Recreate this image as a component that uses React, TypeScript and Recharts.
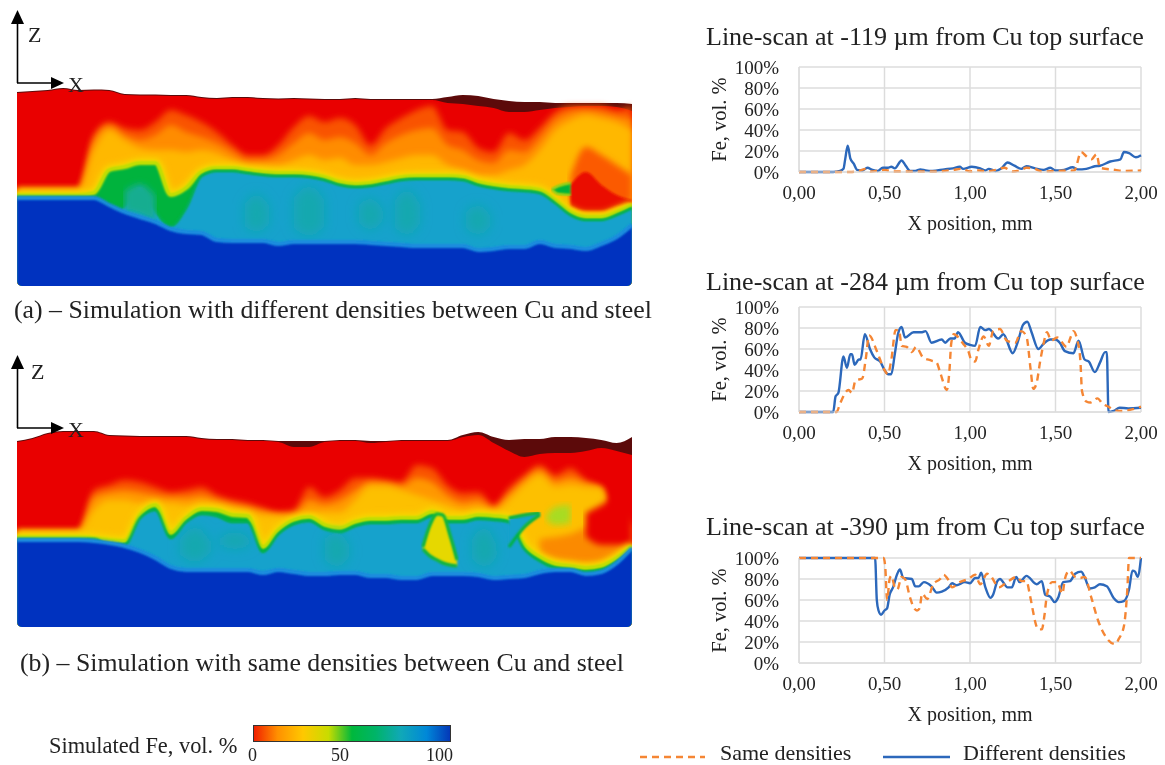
// Laser weld cross-sections (simulated Fe fraction) with three line-scan charts
import React from 'react';
import { AreaChart, Area, LineChart, Line, XAxis, YAxis, CartesianGrid } from 'recharts';

const FONT = '"Liberation Serif", "Times New Roman", serif';
const TEXT = '#222222';
const GRID = '#dcdcdc';
const SAME_COLOR = '#f58634';
const DIFF_COLOR = '#2c68bb';

// ---- line scans: [x in mm] and [Fe vol. %] ----
const scan1DiffX = [0, 0.2, 0.24, 0.26, 0.27, 0.285, 0.3, 0.32, 0.34, 0.37, 0.4, 0.43, 0.46, 0.49, 0.52, 0.54, 0.56, 0.6, 0.62, 0.65, 0.68, 0.71, 0.74, 0.78, 0.85, 0.9, 0.94, 0.96, 1.01, 1.06, 1.09, 1.11, 1.15, 1.18, 1.22, 1.26, 1.3, 1.33, 1.38, 1.43, 1.47, 1.5, 1.55, 1.6, 1.63, 1.68, 1.73, 1.76, 1.82, 1.88, 1.9, 1.93, 1.97, 2];
const scan1DiffY = [0, 0, 1, 3, 12, 25, 13, 8, 2, 1.5, 4, 2, 1, 4, 4, 5, 3.5, 11, 7, 1, 1, 2.5, 1.5, 1, 2.5, 3.5, 5, 3, 5, 3.5, 1.5, 3, 1, 3, 9, 6, 3, 5.5, 3.5, 2, 4, 1.5, 2, 4.5, 2.5, 3, 5.5, 6, 10, 12, 19, 18, 14, 16];
const scan1SameX = [0, 0.3, 0.36, 0.39, 0.42, 0.47, 0.5, 0.55, 0.65, 0.8, 0.9, 0.95, 1, 1.05, 1.1, 1.15, 1.2, 1.25, 1.3, 1.33, 1.38, 1.42, 1.5, 1.61, 1.65, 1.68, 1.71, 1.74, 1.76, 1.85, 1.9, 2];
const scan1SameY = [0, 0, 1.5, 3, 0.5, 1.5, 2, 0.5, 0.5, 0.5, 2, 3, 0.5, 1.5, 0.5, 2, 4, 0.5, 2, 4, 3, 0.5, 1, 1.5, 19, 15, 12, 17, 4, 2, 1, 1.5];

const scan2DiffX = [0, 0.2, 0.214, 0.23, 0.26, 0.28, 0.3, 0.31, 0.325, 0.35, 0.36, 0.385, 0.415, 0.44, 0.475, 0.5, 0.52, 0.54, 0.56, 0.58, 0.6, 0.62, 0.67, 0.72, 0.74, 0.775, 0.835, 0.855, 0.885, 0.91, 0.93, 0.97, 1, 1.03, 1.06, 1.09, 1.11, 1.165, 1.195, 1.25, 1.28, 1.31, 1.335, 1.36, 1.4, 1.43, 1.47, 1.5, 1.525, 1.555, 1.605, 1.635, 1.67, 1.695, 1.73, 1.76, 1.79, 1.8, 1.81, 1.84, 1.875, 1.925, 2];
const scan2DiffY = [0, 0, 15, 18, 53, 42, 55, 55, 45, 50, 50, 74, 60, 52, 48, 40, 36, 36, 55, 75, 81, 71, 76, 76, 77, 66, 69, 66, 70, 70, 76, 66, 64, 63, 81, 78, 79, 70, 74, 56, 67, 83, 86, 76, 60, 65, 69, 69, 66, 58, 56, 68, 50, 48, 38, 47, 57, 57, 0, 1, 4, 3.5, 4];
const scan2SameX = [0, 0.22, 0.24, 0.29, 0.31, 0.33, 0.37, 0.39, 0.41, 0.455, 0.5, 0.52, 0.54, 0.565, 0.585, 0.6, 0.63, 0.66, 0.685, 0.725, 0.775, 0.805, 0.825, 0.865, 0.88, 0.89, 0.905, 0.96, 0.99, 1.01, 1.03, 1.05, 1.08, 1.11, 1.135, 1.175, 1.215, 1.265, 1.3, 1.33, 1.355, 1.37, 1.39, 1.41, 1.43, 1.45, 1.475, 1.51, 1.565, 1.59, 1.605, 1.625, 1.645, 1.655, 1.68, 1.705, 1.745, 1.775, 1.81, 1.84, 1.885, 1.935, 2];
const scan2SameY = [0, 0, 8, 21, 18, 30, 32, 50, 73, 58, 40, 36, 50, 78, 78, 63, 62, 57, 62, 52, 49, 47, 38, 21, 40, 65, 74, 65, 58, 49, 48, 60, 72, 63, 77, 79, 68, 66, 77, 72, 40, 22, 28, 48, 65, 76, 68, 71, 62, 72, 77, 70, 50, 20, 10, 9, 13, 8, 5, 2, 1, 2, 5];

const scan3DiffX = [0, 0.445, 0.455, 0.465, 0.48, 0.5, 0.515, 0.53, 0.55, 0.575, 0.59, 0.61, 0.66, 0.68, 0.7, 0.73, 0.775, 0.805, 0.835, 0.875, 0.895, 0.92, 0.97, 1, 1.03, 1.05, 1.065, 1.09, 1.12, 1.135, 1.16, 1.175, 1.22, 1.245, 1.27, 1.29, 1.33, 1.39, 1.42, 1.44, 1.47, 1.495, 1.515, 1.545, 1.585, 1.615, 1.65, 1.67, 1.7, 1.73, 1.76, 1.8, 1.84, 1.87, 1.9, 1.93, 1.95, 1.965, 1.98, 2];
const scan3DiffY = [100, 100, 60, 50, 46, 50, 52, 65, 72, 85, 89, 81, 80, 73, 73, 77, 73, 67, 68, 72, 76, 74, 77, 76, 81, 81, 86, 72, 62, 65, 78, 80, 72, 72, 82, 77, 83, 75, 78, 65, 63, 58, 62, 77, 78, 85, 87, 82, 71, 72, 75, 73, 62, 58, 59, 70, 88, 87, 82, 100];
const scan3SameX = [0, 0.495, 0.505, 0.515, 0.53, 0.54, 0.56, 0.575, 0.6, 0.62, 0.65, 0.665, 0.69, 0.705, 0.72, 0.75, 0.785, 0.825, 0.845, 0.87, 0.895, 0.94, 0.99, 1.03, 1.06, 1.1, 1.12, 1.17, 1.2, 1.225, 1.275, 1.3, 1.33, 1.35, 1.37, 1.38, 1.4, 1.42, 1.435, 1.45, 1.48, 1.51, 1.54, 1.555, 1.58, 1.615, 1.645, 1.67, 1.71, 1.75, 1.79, 1.85, 1.87, 1.9, 1.92, 1.93, 1.98, 2];
const scan3SameY = [100, 100, 90, 60, 80, 83, 72, 70, 82, 80, 62, 55, 50, 52, 66, 61, 75, 80, 84, 80, 72, 77, 80, 84, 75, 85, 83, 72, 75, 78, 82, 78, 78, 65, 48, 40, 32, 32, 45, 65, 77, 77, 66, 80, 88, 82, 81, 82, 62, 40, 26, 18, 23, 35, 70, 100, 100, 100];

const xTicks = [0, 0.5, 1, 1.5, 2];
const yTicks = [0, 20, 40, 60, 80, 100];
const seriesNames = ['Same densities', 'Different densities'];

// ---- cross-sections: depth of each colour front below the datum, per column ----
const columnX = [0, 0.05, 0.1, 0.15, 0.2, 0.25, 0.3, 0.35, 0.4, 0.45, 0.5, 0.55, 0.6, 0.65, 0.7, 0.75, 0.8, 0.85, 0.9, 0.95, 1, 1.05, 1.1, 1.15, 1.2, 1.25, 1.3, 1.35, 1.4, 1.45, 1.5, 1.55, 1.6, 1.65, 1.7, 1.75, 1.8, 1.85, 1.9, 1.95, 2];

const aSurface = [6, 5, 4, 2, 4, 3.5, 4, 8, 8.5, 8.5, 9, 9, 11, 12, 11, 11, 12, 12.5, 12, 12.5, 13, 13, 12, 13, 13, 13, 13, 13, 11, 9, 10, 13, 15, 16, 16, 17, 17, 17, 17, 17, 18];
const aRed = [7, 6, 5, 3, 5, 4.5, 5, 9, 9.5, 9.5, 10, 10, 12, 13, 12, 12, 13, 13.5, 13, 13.5, 14, 14, 13, 14, 14, 14, 14, 14, 17, 18, 20, 22, 26, 26, 24, 22, 21, 20, 20, 21, 25];
const aFlame = [102, 102, 102, 102, 102, 49, 36, 42, 44, 36, 24, 29, 36, 46, 59, 69, 69, 59, 41, 30, 36, 32, 39, 59, 42, 32, 24, 20, 44, 46, 62, 66, 47, 54, 42, 26, 20, 20, 20, 24, 20];
const aOrange = [103, 103, 103, 103, 103, 54, 40, 49, 54, 49, 39, 46, 51, 57, 66, 74, 74, 69, 57, 47, 54, 51, 57, 69, 57, 49, 44, 42, 59, 64, 74, 77, 64, 66, 52, 34, 26, 24, 26, 30, 32];
const aAmber = [104, 104, 104, 104, 104, 64, 44, 54, 62, 64, 64, 66, 64, 67, 74, 80, 79, 79, 74, 69, 74, 72, 79, 79, 76, 72, 69, 69, 79, 84, 89, 89, 84, 79, 64, 44, 34, 29, 32, 36, 44];
const aGreen = [109, 109, 109, 109, 109, 107, 84, 81, 77, 77, 109, 102, 86, 82, 82, 84, 86, 87, 87, 88, 91, 96, 98, 97, 94, 91, 90, 90, 90, 91, 96, 99, 101, 102, 104, 114, 126, 131, 131, 126, 119];
const aTeal = [111, 111, 111, 111, 111, 112, 129, 120, 100, 125, 140, 122, 90, 85, 85, 87, 89, 90, 90, 91, 94, 99, 101, 100, 97, 94, 93, 93, 93, 94, 99, 102, 104, 105, 107, 117, 129, 134, 134, 129, 122];
const aSteel = [112, 112, 112, 112, 112, 112, 119, 126, 131, 136, 143, 146, 147, 154, 155, 155, 155, 158, 156, 156, 156, 156, 156, 157, 158, 159, 160, 160, 160, 160, 164, 163, 161, 161, 156, 160, 161, 163, 158, 151, 139];

const bSurface = [14, 11, 6, 4, 4, 4, 8, 8.5, 9, 9, 9, 9, 11, 12, 12, 13, 13, 14, 14, 14, 14, 13, 13, 14, 14, 13, 13, 13, 13, 8, 5, 10, 13, 12, 12, 10, 10, 11, 13, 16, 10];
const bRed = [15, 12, 7, 5, 5, 5, 9, 9.5, 10, 10, 10, 10, 12, 13, 13, 14, 14, 15, 20, 20, 15, 14, 14, 16, 15, 14, 14, 14, 14, 10, 8, 16, 24, 30, 27, 26, 26, 24, 21, 24, 28];
const bFlame = [103, 103, 103, 103, 103, 63, 58, 53, 55, 60, 65, 63, 60, 68, 73, 76, 81, 85, 83, 60, 70, 63, 51, 51, 53, 55, 38, 41, 58, 66, 65, 78, 61, 48, 38, 48, 41, 53, 61, 116, 118];
const bOrange = [104, 104, 104, 104, 104, 70, 65, 63, 65, 68, 70, 70, 68, 73, 77, 80, 84, 87, 87, 73, 77, 73, 63, 55, 56, 59, 51, 55, 68, 75, 73, 81, 67, 53, 43, 54, 50, 56, 61, 117, 119];
const bAmber = [105, 105, 105, 105, 105, 83, 73, 73, 76, 76, 76, 78, 76, 78, 81, 85, 88, 89, 91, 87, 85, 85, 73, 59, 59, 63, 68, 73, 78, 83, 81, 85, 73, 58, 48, 60, 58, 60, 61, 118, 121];
const bGreen = [110, 110, 110, 110, 110, 111, 113, 114, 88, 78, 106, 91, 82, 83, 88, 89, 120, 103, 93, 90, 98, 101, 95, 92, 92, 91, 91, 85, 91, 91, 88, 89, 91, 118, 130, 137, 139, 141, 139, 131, 119];
const bTeal = [112, 112, 112, 112, 112, 112, 118, 118, 91, 83, 111, 95, 87, 89, 95, 95, 125, 107, 97, 94, 102, 105, 99, 96, 96, 95, 95, 89, 95, 95, 92, 93, 95, 122, 134, 141, 143, 145, 143, 135, 123];
const bSteel = [113, 113, 113, 113, 113, 114, 116, 119, 124, 131, 140, 143, 143, 143, 143, 143, 146, 143, 145, 147, 147, 146, 146, 149, 149, 151, 151, 147, 147, 147, 148, 151, 150, 149, 145, 143, 143, 147, 145, 136, 121];

// closed patches: x, upper front, lower front (null separates streaks)
const aPocketX = [1.8, 1.85, 1.9, 1.95, 2];
const aPocketOrangeTop = [91, 61, 69, 79, 89];
const aPocketOrangeLow = [119, 126, 126, 122, 117];
const aPocketRedTop = [99, 86, 99, 109, 114];
const aPocketRedLow = [120, 125, 125, 120, 116];
const aIslandX = [1.74, 1.76, 1.8];
const aIslandTop = [103, 100, 97];
const aIslandLow = [104, 108, 109];
const aMixX = [0.35, 0.4, 0.45];
const aMixTop = [105, 98, 110];
const aMixLow = [125, 128, 135];
const aStreakX = [0.74, 0.78, 0.82, 0.83, 0.9, 0.95, 1, 1.01, 1.11, 1.15, 1.19, 1.2, 1.23, 1.27, 1.31, 1.32, 1.46, 1.5, 1.54];
const aStreakTop = [118, 108, 120, null, 112, 100, 114, null, 120, 112, 124, null, 114, 104, 118, null, 126, 119, 130];
const aStreakLow = [140, 146, 138, null, 142, 150, 140, null, 136, 144, 134, null, 142, 149, 138, null, 142, 149, 140];

const bFoldX = [1.32, 1.343, 1.366, 1.385, 1.408, 1.431];
const bFoldTop = [120, 98, 87, 88, 108, 133];
const bFoldLow = [122, 129, 133, 136, 138, 139];
const bTipX = [1.6, 1.65, 1.7];
const bTipTop = [91, 88, 86];
const bTipLow = [120, 100, 88];
const bPocketX = [1.7, 1.75, 1.8, 1.85, 1.9, 1.95, 2];
const bPocketOrangeTop = [112, 110, 107, 100, 92, 85, 100];
const bPocketOrangeLow = [128, 133, 136, 137, 135, 128, 118];
const bRedPatchX = [1.85, 1.9, 1.95, 2];
const bRedPatchTop = [86, 78, 70, 70];
const bRedPatchLow = [110, 118, 118, 118];
const bLimeX = [1.72, 1.75, 1.8];
const bLimeTop = [90, 80, 78];
const bLimeLow = [92, 98, 96];
const bStreakX = [0.53, 0.58, 0.63, 0.64, 0.66, 0.71, 0.76, 0.77, 1, 1.04, 1.08, 1.09, 1.48, 1.52, 1.56];
const bStreakTop = [112, 100, 115, null, 110, 105, 112, null, 112, 105, 118, null, 112, 100, 118];
const bStreakLow = [128, 135, 125, null, 118, 122, 118, null, 132, 140, 130, null, 132, 140, 130];

const FLOOR = 200;
const BELOW = 215;
const zip = (xs: number[], a: any[], b?: any[]) =>
    xs.map((x, i) => ({ x, top: a[i], low: b ? b[i] : BELOW }));
const pts = (xs: number[], ys: number[]) => xs.map((x, i) => ({ x, y: ys[i] }));

type Layer = { name: string; rows: any[]; fill: string; stroke?: string; sw?: number; blur?: 'wide' | 'fine' | 'haze'; alpha?: number };

function layersA(): Layer[] {
    return [
        { name: 'crust', rows: zip(columnX, aSurface), fill: '#5c0a0a' },
        { name: 'red', rows: zip(columnX, aRed), fill: '#e90000' },
        { name: 'flame', rows: zip(columnX, aFlame), fill: '#f95200', blur: 'wide' },
        { name: 'orange', rows: zip(columnX, aOrange), fill: '#ff8c00', blur: 'wide' },
        { name: 'amber', rows: zip(columnX, aAmber), fill: '#ffb800', blur: 'wide' },
        { name: 'pocketOrange', rows: zip(aPocketX, aPocketOrangeTop, aPocketOrangeLow), fill: '#fb5a00', blur: 'wide' },
        { name: 'pocketRed', rows: zip(aPocketX, aPocketRedTop, aPocketRedLow), fill: '#ea0a00', blur: 'fine' },
        { name: 'halo', rows: zip(columnX, aGreen), fill: '#f5d800', stroke: '#f5d800', sw: 9, blur: 'wide' },
        { name: 'green', rows: zip(columnX, aGreen), fill: '#00b33c', stroke: '#c4e000', sw: 4, blur: 'fine' },
        { name: 'island', rows: zip(aIslandX, aIslandTop, aIslandLow), fill: '#00b33c', stroke: '#a8dc10', sw: 2, blur: 'fine' },
        { name: 'teal', rows: zip(columnX, aTeal), fill: '#12a2cc', stroke: '#00b33c', sw: 2, blur: 'fine' },
        { name: 'mix', rows: zip(aMixX, aMixTop, aMixLow), fill: '#12ad90', blur: 'wide' },
        { name: 'streak', rows: zip(aStreakX, aStreakTop, aStreakLow), fill: '#10ab9c', blur: 'haze', alpha: 0.6 },
        { name: 'steel', rows: zip(columnX, aSteel), fill: '#0433bf', stroke: '#1a8ee0', sw: 4, blur: 'fine' },
    ];
}

function layersB(): Layer[] {
    return [
        { name: 'crust', rows: zip(columnX, bSurface), fill: '#5c0a0a' },
        { name: 'red', rows: zip(columnX, bRed), fill: '#e90000' },
        { name: 'flame', rows: zip(columnX, bFlame), fill: '#f95200', blur: 'wide' },
        { name: 'orange', rows: zip(columnX, bOrange), fill: '#ff9800', blur: 'wide' },
        { name: 'amber', rows: zip(columnX, bAmber), fill: '#fdc000', blur: 'wide' },
        { name: 'lime', rows: zip(bLimeX, bLimeTop, bLimeLow), fill: '#a8dc20', blur: 'wide' },
        { name: 'pocketOrange', rows: zip(bPocketX, bPocketOrangeTop, bPocketOrangeLow), fill: '#fb8a00', blur: 'wide' },
        { name: 'redPatch', rows: zip(bRedPatchX, bRedPatchTop, bRedPatchLow), fill: '#e90000', blur: 'wide' },
        { name: 'halo', rows: zip(columnX, bGreen), fill: '#f5d800', stroke: '#f5d800', sw: 9, blur: 'wide' },
        { name: 'green', rows: zip(columnX, bGreen), fill: '#00b33c', stroke: '#c4e000', sw: 4, blur: 'fine' },
        { name: 'teal', rows: zip(columnX, bTeal), fill: '#12a2cc', stroke: '#00b33c', sw: 2, blur: 'fine' },
        { name: 'streak', rows: zip(bStreakX, bStreakTop, bStreakLow), fill: '#10ab9c', blur: 'haze', alpha: 0.6 },
        { name: 'tip', rows: zip(bTipX, bTipTop, bTipLow), fill: '#12a2cc', stroke: '#00b33c', sw: 3, blur: 'fine' },
        { name: 'fold', rows: zip(bFoldX, bFoldTop, bFoldLow), fill: '#e6d800', stroke: '#00b33c', sw: 3, blur: 'fine' },
        { name: 'steel', rows: zip(columnX, bSteel), fill: '#0433bf', stroke: '#1a8ee0', sw: 4, blur: 'fine' },
    ];
}

const bandKey = (d: any) => (d.top == null ? null : [d.low, d.top]);

function Section({ id, top, layers }: { id: string; top: number; layers: Layer[] }) {
    return (
        <div style={{ position: 'absolute', left: 17, top, width: 615, height: FLOOR, overflow: 'hidden', borderRadius: 5 }}>
            <AreaChart width={615} height={FLOOR} data={layers[0].rows} margin={{ top: 0, right: 0, bottom: 0, left: 0 }}>
                <defs>
                    <filter id={`${id}wide`} x="-5%" y="-20%" width="110%" height="140%">
                        <feGaussianBlur stdDeviation="3" />
                    </filter>
                    <filter id={`${id}fine`} x="-5%" y="-20%" width="110%" height="140%">
                        <feGaussianBlur stdDeviation="0.9" />
                    </filter>
                    <filter id={`${id}haze`} x="-5%" y="-30%" width="110%" height="160%">
                        <feGaussianBlur stdDeviation="6" />
                    </filter>
                </defs>
                <XAxis hide type="number" dataKey="x" domain={[0, 2]} />
                <YAxis hide reversed type="number" domain={[0, FLOOR]} allowDataOverflow />
                {layers.map((l) => (
                    <Area
                        key={l.name}
                        name={l.name}
                        data={l.rows}
                        type="monotone"
                        dataKey={bandKey}
                        fill={l.fill}
                        fillOpacity={l.alpha || 1}
                        stroke={l.stroke || 'none'}
                        strokeWidth={l.sw || 0}
                        filter={l.blur ? `url(#${id}${l.blur})` : undefined}
                        dot={false}
                        activeDot={false}
                        isAnimationActive={false}
                    />
                ))}
            </AreaChart>
        </div>
    );
}

function Scan({ title, top, plotTop, same, diff }: { title: string; top: number; plotTop: number; same: any[]; diff: any[] }) {
    const tick = { fill: TEXT, fontSize: 19, fontFamily: FONT };
    return (
        <div style={{ position: 'absolute', left: 700, top, width: 460, height: 215 }}>
            <div style={{ position: 'absolute', left: 6, top: 2, fontFamily: FONT, fontSize: 26, color: TEXT, whiteSpace: 'nowrap' }}>{title}</div>
            <LineChart width={460} height={plotTop + 105 + 62} margin={{ top: plotTop, right: 19, bottom: 0, left: 0 }}>
                <CartesianGrid stroke={GRID} strokeWidth={1.5} />
                <XAxis
                    type="number"
                    dataKey="x"
                    domain={[0, 2]}
                    ticks={xTicks}
                    height={62}
                    stroke={GRID}
                    tickLine={false}
                    tick={tick}
                    tickMargin={8}
                    interval={0}
                    tickFormatter={(v) => v.toFixed(2).replace('.', ',')}
                    label={{ value: 'X position, mm', position: 'insideBottom', offset: 4, fill: TEXT, fontSize: 20, fontFamily: FONT }}
                />
                <YAxis
                    type="number"
                    domain={[0, 100]}
                    ticks={yTicks}
                    width={99}
                    stroke={GRID}
                    tickLine={false}
                    tick={tick}
                    tickMargin={14}
                    interval={0}
                    tickFormatter={(v) => `${v}%`}
                    label={{ value: 'Fe, vol. %', angle: -90, position: 'insideLeft', offset: 19, style: { textAnchor: 'middle' }, fill: TEXT, fontSize: 20.5, fontFamily: FONT }}
                />
                <Line data={diff} dataKey="y" name={seriesNames[1]} type="monotone" stroke={DIFF_COLOR} strokeWidth={2.4} dot={false} activeDot={false} isAnimationActive={false} />
                <Line data={same} dataKey="y" name={seriesNames[0]} type="monotone" stroke={SAME_COLOR} strokeWidth={2.4} strokeDasharray="7 5" dot={false} activeDot={false} isAnimationActive={false} />
            </LineChart>
        </div>
    );
}

function Axes({ top, zLeft, zTop }: { top: number; zLeft: number; zTop: number }) {
    // axis triad drawn above the section, origin at (17, top + 73)
    return (
        <React.Fragment>
            <svg style={{ position: 'absolute', left: 0, top, overflow: 'visible' }} width={90} height={90}>
                <line x1={17.5} y1={73} x2={17.5} y2={10} stroke="#000" strokeWidth={1.6} />
                <line x1={17} y1={73} x2={54} y2={73} stroke="#000" strokeWidth={1.6} />
                <polygon points="17.5,0 11,14 24,14" fill="#000" />
                <polygon points="64,73 51,67 51,79" fill="#000" />
            </svg>
            <span style={{ position: 'absolute', left: zLeft, top: zTop, fontFamily: FONT, fontSize: 22, color: TEXT, lineHeight: '22px' }}>Z</span>
            <span style={{ position: 'absolute', left: 68, top: top + 64, fontFamily: FONT, fontSize: 22, color: TEXT, lineHeight: '22px' }}>X</span>
        </React.Fragment>
    );
}

const caption = (left: number, top: number, size: number, text: string, lh?: number) => (
    <div style={{ position: 'absolute', left, top, fontFamily: FONT, fontSize: size, color: TEXT, whiteSpace: 'nowrap', lineHeight: `${lh || size + 4}px` }}>{text}</div>
);

export default function App() {
    return (
        <div style={{ position: 'absolute', left: 0, top: 0, width: 1165, height: 765, overflow: 'hidden', background: '#fff', filter: 'blur(0.35px)' }}>
            <Section id="softA" top={86} layers={layersA()} />
            <Section id="softB" top={427} layers={layersB()} />
            <Axes top={10} zLeft={28} zTop={24} />
            <Axes top={355} zLeft={31} zTop={361} />
            {caption(14, 295, 25.8, '(a) – Simulation with different densities between Cu and steel')}
            {caption(20, 648, 25.8, '(b) – Simulation with same densities between Cu and steel')}

            <Scan title="Line-scan at -119 µm from Cu top surface" top={20} plotTop={47} same={pts(scan1SameX, scan1SameY)} diff={pts(scan1DiffX, scan1DiffY)} />
            <Scan title="Line-scan at -284 µm from Cu top surface" top={265} plotTop={42} same={pts(scan2SameX, scan2SameY)} diff={pts(scan2DiffX, scan2DiffY)} />
            <Scan title="Line-scan at -390 µm from Cu top surface" top={510} plotTop={48} same={pts(scan3SameX, scan3SameY)} diff={pts(scan3DiffX, scan3DiffY)} />

            {/* colour bar */}
            {caption(49, 733, 22.4, 'Simulated Fe, vol. %')}
            <div style={{ position: 'absolute', left: 253, top: 725, width: 198, height: 17, border: '1px solid #333', boxSizing: 'border-box', background: 'linear-gradient(to right, #f02000, #ff9000 12%, #ffc800 25%, #c8dc00 38%, #00b83c 50%, #00b468 62%, #10a8b8 75%, #0088d8 88%, #0438b8)' }} />
            {caption(248, 745, 18, '0', 20)}
            {caption(331, 745, 18, '50', 20)}
            {caption(426, 745, 18, '100', 20)}

            {/* legend */}
            <svg style={{ position: 'absolute', left: 630, top: 745 }} width={330} height={20}>
                <line x1={10} y1={12} x2={75} y2={12} stroke={SAME_COLOR} strokeWidth={2.4} strokeDasharray="7 5" />
                <line x1={253} y1={12} x2={320} y2={12} stroke={DIFF_COLOR} strokeWidth={2.4} />
            </svg>
            {caption(720, 741, 22, seriesNames[0], 24)}
            {caption(963, 741, 22, seriesNames[1], 24)}
        </div>
    );
}
